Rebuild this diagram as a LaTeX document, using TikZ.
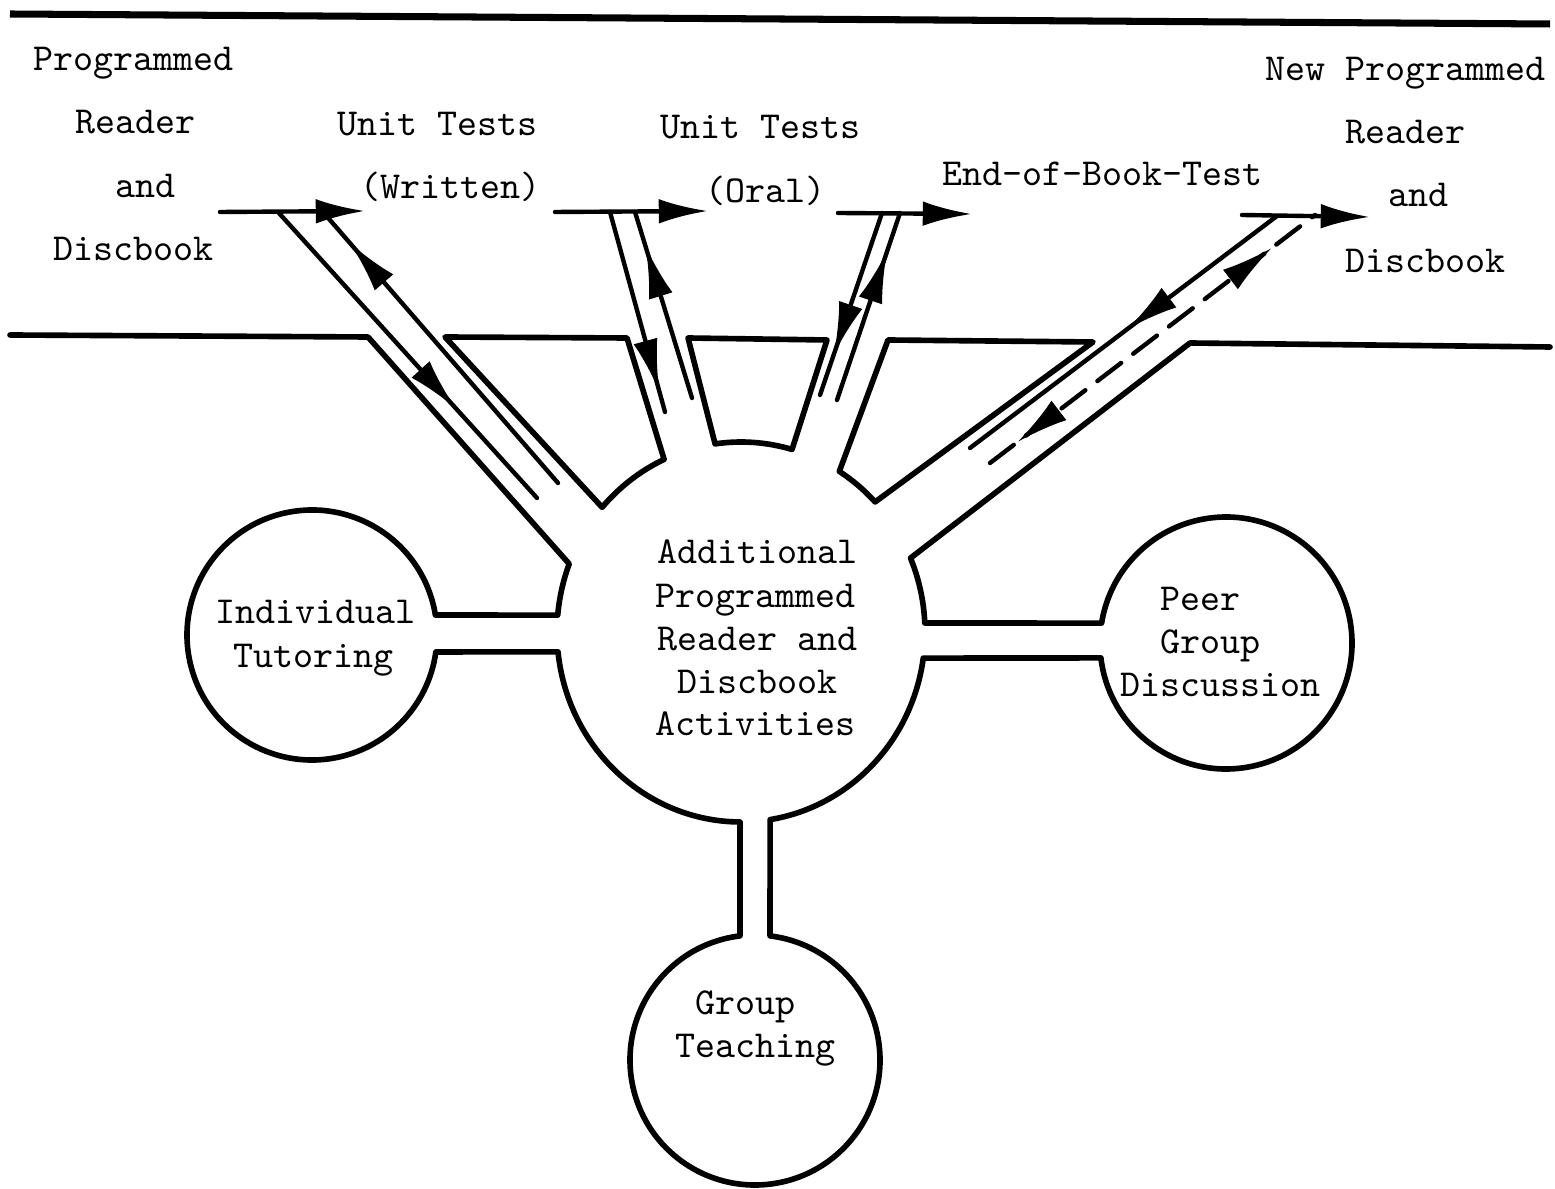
\documentclass[tikz,border=0pt]{standalone}
\usetikzlibrary{arrows.meta,decorations.markings,calc}
\begin{document}
\begin{tikzpicture}[x=0.01cm,y=-0.01cm,
  wall/.style={line width=1.6pt, line join=round, line cap=round},
  track/.style={line width=1.25pt, line cap=round},
  lbl/.style={inner sep=0pt, anchor=base west, font=\fontsize{10.84pt}{13pt}\selectfont\ttfamily},
  tipend/.style={-{Latex[length=14pt,width=7pt]}},
  midarrow/.style={postaction={decorate,decoration={markings,mark=at position #1 with {\arrow{Latex[length=15pt,width=7pt]}}}}},
  midarrowrev/.style={postaction={decorate,decoration={markings,mark=at position #1 with {\arrowreversed{Latex[length=15pt,width=7pt]}}}}},
  ]
\useasboundingbox (0,0) rectangle (1555,1189);

\coordinate (hub) at (741,632);
\coordinate (it) at (312,635);
\coordinate (gt) at (755,1060);
\coordinate (pg) at (1226,643);

% top rule
\draw[line width=2pt] (10,14) -- (1550,24);

% outer contour
\draw[wall] (10,335) -- (368,337) -- ($(hub)+(201:184 and 190)$)
  arc[start angle=201, end angle=185.1, x radius=184, y radius=190]
  -- ($(it)+(350.8:125)$)
  arc[start angle=350.8, end angle=7.8, radius=125]
  -- ($(hub)+(174:184 and 190)$)
  arc[start angle=174, end angle=90.3, x radius=184, y radius=190]
  -- ($(gt)+(263.1:125)$)
  arc[start angle=263.1, end angle=-83.1, radius=125]
  -- ($(hub)+(80.9:184 and 190)$)
  arc[start angle=80.9, end angle=7.9, x radius=184, y radius=190]
  -- ($(pg)+(173.2:126)$)
  arc[start angle=173.2, end angle=-170.9, radius=126]
  -- ($(hub)+(-2.7:184 and 190)$)
  arc[start angle=-2.7, end angle=-22.9, x radius=184, y radius=190]
  -- (1190,343) -- (1550,347);

% blocks between channels
\draw[wall] (445,337) -- (627,338) -- ($(hub)+(-114.7:184 and 190)$)
  arc[start angle=-114.7, end angle=-139, x radius=184, y radius=190] -- cycle;
\draw[wall] (688,338) -- (827,340) -- ($(hub)+(-73.9:184 and 190)$)
  arc[start angle=-73.9, end angle=-98.1, x radius=184, y radius=190] -- cycle;
\draw[wall] (888,340) -- (1093,342) -- ($(hub)+(-43.2:184 and 190)$)
  arc[start angle=-43.2, end angle=-57.7, x radius=184, y radius=190] -- cycle;

% tracks: written
\draw[track,tipend] (220,212) -- (365,211);
\draw[track,midarrow=0.69] (278,212) -- (537,498);
\draw[track,midarrow=0.89] (558,483) -- (323,212);
% tracks: oral
\draw[track,tipend] (555,212) -- (708,211);
\draw[track,midarrow=0.9] (610,212) -- (665,412);
\draw[track,midarrow=0.82] (692,398) -- (635,212);
% tracks: end of book
\draw[track,tipend] (838,213) -- (972,214);
\draw[track,midarrow=0.78] (882,213) -- (820,395);
\draw[track,midarrow=0.8] (837,400) -- (900,213);
% tracks: new reader
\draw[track,tipend] (1242,215) -- (1370,217);
\draw[track,midarrow=0.49] (1277,216) -- (970,448);
\draw[track,dash pattern=on 8.5pt off 4.3pt,midarrow=0.87,midarrowrev=0.083] (990,463) -- (1315,215);

% labels
\node[lbl] (l1) at (33,71) {Programmed};
\node[lbl] (l2) at (75,134) {Reader};
\node[lbl] (l3) at (115,198) {and};
\node[lbl] (l4) at (53,261) {Discbook};

\node[lbl] (w1) at (337,136) {Unit Tests};
\node[lbl] (w2) at (360,199) {(Written)};
\node[lbl] (o1) at (660,139) {Unit Tests};
\node[lbl] (o2) at (705,203) {(Oral)};
\node[lbl] (eb) at (942,186) {End-of-Book-Test};

\node[lbl] (r1) at (1265,81) {New Programmed};
\node[lbl] (r2) at (1345,144) {Reader};
\node[lbl] (r3) at (1388,207) {and};
\node[lbl] (r4) at (1345,273) {Discbook};

\node[lbl] (c1) at (657,564) {Additional};
\node[lbl] (c2) at (655,608) {Programmed};
\node[lbl] (c3) at (657,651) {Reader and};
\node[lbl] (c4) at (677,694) {Discbook};
\node[lbl] (c5) at (655,736) {Activities};

\node[lbl] (i1) at (215,624) {Individual};
\node[lbl] (i2) at (233,668) {Tutoring};

\node[lbl] (p1) at (1160,611) {Peer};
\node[lbl] (p2) at (1160,654) {Group};
\node[lbl] (p3) at (1120,697) {Discussion};

\node[lbl] (g1) at (695,1014) {Group};
\node[lbl] (g2) at (675,1057) {Teaching};
\end{tikzpicture}
\end{document}
